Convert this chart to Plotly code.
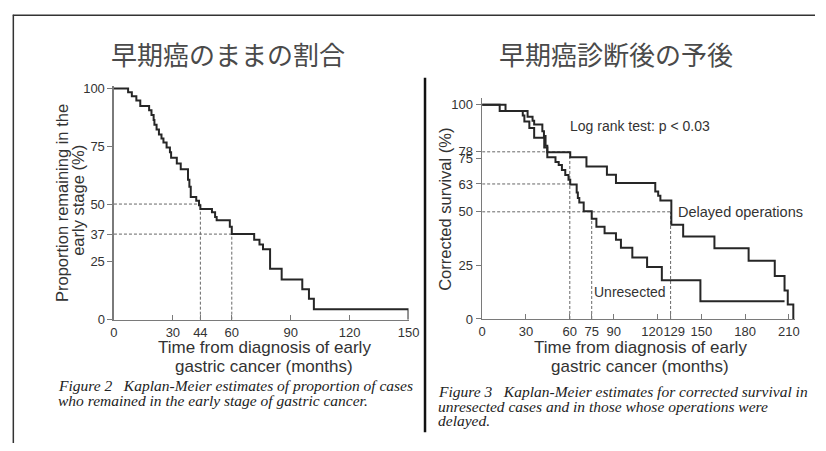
import plotly.graph_objects as go

W, H = 826, 451

# ---------------- data: left chart (Figure 2) ----------------
left_time = [0, 7.2, 9.1, 11.4, 13.4, 17.9, 19.1, 20.2, 20.6, 21.7, 22.9, 24.2, 25.2, 26.8,
             28.5, 29.1, 32.0, 34.0, 37.7, 38.4, 39.1, 41.9, 43.3, 44.0, 49.9, 51.5, 52.3,
             59.0, 60.0, 71.4, 74.1, 75.9, 79.5, 85.4, 95.9, 99.3, 101.8, 150]
left_pct = [100, 98.3, 96.6, 94.8, 92.4, 90.6, 88.5, 86.4, 84.3, 82.2, 80.1, 78.4, 76.6, 74.5,
            72.4, 70.0, 67.5, 65.0, 60.5, 57.5, 53.0, 51.4, 49.5, 47.9, 46.5, 44.4, 43.0,
            40.2, 37.0, 34.6, 32.5, 30.4, 22.0, 17.4, 13.2, 9.0, 4.5, 0]
left_xticks = [0, 30, 44, 60, 90, 120, 150]
left_yticks = [0, 25, 37, 50, 75, 100]
left_ref_levels = [50, 37]      # horizontal guides (%)
left_ref_times = [44, 60]       # matching vertical guides (months)

# ---------------- data: right chart (Figure 3) ----------------
unres_time = [0, 12, 27.8, 28.9, 32.3, 35.6, 42.5, 44.6, 50.2, 52.4, 54.6, 56.9, 59.1, 60.3,
              64.7, 65.5, 66.5, 69.5, 75, 78.2, 83.8, 91.6, 95, 102.8, 112.9, 123, 149.4, 207]
unres_pct = [100, 97, 95, 92.2, 89.1, 84.6, 80, 75.5, 73.3, 71.8, 69.5, 67.2, 65, 62.7,
             59, 56.5, 54.4, 50.3, 46.8, 43, 40, 37, 33.2, 28.7, 24.2, 18.1, 8.3, 8.3]
delay_time = [0, 16, 31.1, 34.5, 35.6, 41.2, 42.3, 43.4, 44.6, 60.3, 71.4, 85.4, 91.6,
              118.5, 120.5, 122, 129.5, 137.6, 159, 182.4, 200.3, 207, 209.2, 213]
delay_pct = [100, 97, 94.4, 92.5, 90.7, 87.6, 85.4, 80.8, 77.8, 75.5, 71.2, 67.3, 63.5,
             59.5, 57.5, 55.3, 44, 38.5, 33, 27.2, 20, 13.3, 6.8, 0]
right_xticks = [0, 30, 60, 75, 90, 120, 129, 150, 180, 210]
right_xticktext = ["0", "30", "60", "75", "90", "120\u00a0\u00a0\u00a0", "\u00a0\u00a0129",
                   "150", "180", "210"]
right_yticks = [0, 25, 50, 63, 75, 78, 100]
right_h_levels = [78, 63, 50]   # horizontal guides (%)
right_h_ends = [60, 60, 129]    # where they stop (months)
right_v_times = [60, 75, 129]   # vertical guides (months)
right_v_tops = [78, 50, 50]     # where they stop (%)


def fx(px):
    return px / W


def fy(py):
    return 1 - py / H


CURVE = dict(color="#262626", width=2, shape="hv")
GUIDE = dict(color="#666666", width=1, dash="3px,2px")
TICKFONT = dict(family="Liberation Sans, Arial, sans-serif", size=13, color="#333333")

fig = go.Figure()

for lvl, t in zip(left_ref_levels, left_ref_times):
    fig.add_trace(go.Scatter(x=[0, t], y=[lvl, lvl], mode="lines", line=GUIDE,
                             xaxis="x", yaxis="y", hoverinfo="skip"))
    fig.add_trace(go.Scatter(x=[t, t], y=[0, lvl], mode="lines", line=GUIDE,
                             xaxis="x", yaxis="y", hoverinfo="skip"))
for lvl, t in zip(right_h_levels, right_h_ends):
    fig.add_trace(go.Scatter(x=[0, t], y=[lvl, lvl], mode="lines", line=GUIDE,
                             xaxis="x2", yaxis="y2", hoverinfo="skip"))
for t, top in zip(right_v_times, right_v_tops):
    fig.add_trace(go.Scatter(x=[t, t], y=[0, top], mode="lines", line=GUIDE,
                             xaxis="x2", yaxis="y2", hoverinfo="skip"))

fig.add_trace(go.Scatter(x=left_time, y=left_pct, mode="lines", line=CURVE,
                         xaxis="x", yaxis="y", name="Early stage"))
fig.add_trace(go.Scatter(x=unres_time, y=unres_pct, mode="lines", line=CURVE,
                         xaxis="x2", yaxis="y2", name="Unresected"))
fig.add_trace(go.Scatter(x=delay_time, y=delay_pct, mode="lines", line=CURVE,
                         xaxis="x2", yaxis="y2", name="Delayed operations"))

axis_common = dict(showline=True, linecolor="#7a7a7a", linewidth=1.5, showgrid=False,
                   zeroline=False, tickfont=TICKFONT, ticklen=5, tickcolor="#7a7a7a",
                   tickwidth=1, tickmode="array", fixedrange=True, tickangle=0)

fig.update_layout(
    width=W, height=H, margin=dict(l=0, r=0, t=0, b=0),
    paper_bgcolor="white", plot_bgcolor="white", showlegend=False,
    xaxis=dict(axis_common, domain=[fx(112), fx(412)], range=[0, 150], anchor="y",
               tickvals=left_xticks, ticks="inside"),
    yaxis=dict(axis_common, domain=[fy(324), fy(83.3)], range=[0, 101.1], anchor="x",
               tickvals=left_yticks, ticks="outside"),
    xaxis2=dict(axis_common, domain=[fx(487), fx(805.7)], range=[0, 214.2], anchor="y2",
                tickvals=right_xticks, ticktext=right_xticktext, ticks="inside"),
    yaxis2=dict(axis_common, domain=[fy(323.3), fy(96)], range=[0, 103], anchor="x2",
                tickvals=right_yticks, ticks="outside"),
)

SANS = "Liberation Sans, Arial, sans-serif"
SERIF = "Liberation Serif, Times New Roman, serif"
CJK = "Noto Sans CJK JP, Noto Sans CJK SC, sans-serif"
ann = []


def add_text(text, px, py, size, family=SANS, color="#333333", angle=0, xanchor="center"):
    ann.append(dict(text=text, x=fx(px), y=fy(py), xref="paper", yref="paper",
                    showarrow=False, xanchor=xanchor, yanchor="middle", textangle=angle,
                    font=dict(family=family, size=size, color=color)))


add_text("早期癌のままの割合", 228, 50, 26, CJK, "#4a4a4a")
add_text("早期癌診断後の予後", 623, 50, 26, CJK, "#4a4a4a")

add_text("Proportion remaining in the", 59, 204, 16.5, angle=-90)
add_text("early stage (%)", 76, 201, 16.5, angle=-90)
add_text("Corrected survival (%)", 449, 210, 16.5, angle=-90)

add_text("Time from diagnosis of early", 265, 353, 17)
add_text("gastric cancer (months)", 265, 372, 17)
add_text("Time from diagnosis of early", 648, 353, 17)
add_text("gastric cancer (months)", 648, 372, 17)

add_text("Log rank test: p &lt; 0.03", 648, 125, 14)
add_text("Delayed operations", 750, 213, 14.5)
add_text("Unresected", 638, 296, 14)

sp = "\u00a0\u00a0\u00a0"
add_text("<i>Figure 2" + sp + "Kaplan-Meier estimates of proportion of cases</i>", 53, 392, 15.5,
         SERIF, "#222222", xanchor="left")
add_text("<i>who remained in the early stage of gastric cancer.</i>", 53, 407, 15.5,
         SERIF, "#222222", xanchor="left")
add_text("<i>Figure 3" + sp + "Kaplan-Meier estimates for corrected survival in</i>", 440, 398, 15.5,
         SERIF, "#222222", xanchor="left")
add_text("<i>unresected cases and in those whose operations were</i>", 440, 413, 15.5,
         SERIF, "#222222", xanchor="left")
add_text("<i>delayed.</i>", 440, 428, 15.5, SERIF, "#222222", xanchor="left")

fig.update_layout(annotations=ann)

shapes = [
    dict(type="line", xref="paper", yref="paper", x0=fx(9), x1=1, y0=fy(10.5), y1=fy(10.5),
         line=dict(color="#333333", width=1.5)),
    dict(type="line", xref="paper", yref="paper", x0=fx(9.5), x1=fx(9.5), y0=fy(10), y1=0,
         line=dict(color="#333333", width=1.5)),
    dict(type="line", xref="paper", yref="paper", x0=fx(428.8), x1=fx(428.8), y0=fy(75), y1=fy(440),
         line=dict(color="#111111", width=2.5)),
]
fig.update_layout(shapes=shapes)

# remove the browser's default page margin and the hover toolbar
fig.write_html(
    "out.html",
    config={"displayModeBar": False, "staticPlot": True},
    post_script="document.body.style.margin='0';document.body.style.overflow='hidden';"
                "document.documentElement.style.overflow='hidden';",
)
